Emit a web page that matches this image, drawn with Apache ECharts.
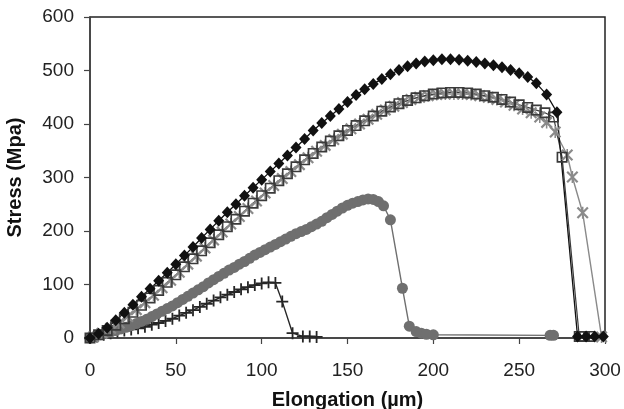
<!DOCTYPE html>
<html>
<head>
<meta charset="utf-8">
<script src="https://cdn.jsdelivr.net/npm/echarts@6/dist/echarts.min.js"></script>
<style>
  html, body { margin: 0; padding: 0; background: #fff; }
  #chart { width: 624px; height: 409px; }
</style>
</head>
<body>
<div id="chart"></div>
<script>
// tick labels
const xTicks = [0, 50, 100, 150, 200, 250, 300];
const yTicks = [0, 100, 200, 300, 400, 500, 600];

// black diamonds
const diamondX = [0, 5, 10, 15, 20, 25, 30, 35, 40, 45, 50, 55, 60, 65, 70, 75, 80, 85, 90, 95, 100,
  105, 110, 115, 120, 125, 130, 135, 140, 145, 150, 155, 160, 165, 170, 175, 180, 185, 190, 195, 200,
  205, 210, 215, 220, 225, 230, 235, 240, 245, 250, 255, 260, 266, 272, 284, 289, 294, 299];
const diamondY = [0, 8, 19, 33, 47, 62, 77, 92, 107, 122, 138, 154, 170, 187, 203, 219, 235, 250, 266, 281, 296,
  311, 326, 341, 356, 372, 388, 402, 415, 428, 441, 454, 465, 475, 484, 493, 501, 508, 513, 517, 519,
  521, 521, 520, 518, 516, 513, 510, 506, 501, 495, 488, 476, 455, 422, 3, 3, 3, 3];

// open squares
const squareX = [0, 5, 10, 15, 20, 25, 30, 35, 40, 45, 50, 55, 60, 65, 70, 75, 80, 85, 90, 95, 100,
  105, 110, 115, 120, 125, 130, 135, 140, 145, 150, 155, 160, 165, 170, 175, 180, 185, 190, 195, 200,
  205, 210, 215, 220, 225, 230, 235, 240, 245, 250, 255, 260, 265, 270, 275, 285, 288, 291];
const squareY = [0, 6, 14, 24, 36, 48, 61, 75, 89, 104, 118, 133, 148, 163, 178, 193, 208, 222, 237, 252, 266,
  280, 294, 307, 320, 333, 345, 357, 368, 378, 388, 397, 406, 415, 424, 432, 438, 444, 449, 453, 456,
  458, 459, 459, 458, 456, 453, 450, 446, 441, 436, 431, 426, 421, 413, 338, 3, 3, 3];

// grey asterisks
const starX = [2, 7, 12, 17, 22, 27, 32, 37, 42, 47, 52, 57, 62, 67, 72, 77, 82, 87, 92, 97, 102,
  107, 112, 117, 122, 127, 132, 137, 142, 147, 152, 157, 162, 167, 172, 177, 182, 187, 192, 197, 202,
  207, 212, 217, 222, 227, 232, 237, 242, 247, 252, 257, 262, 266, 271, 278, 281, 287, 298];
const starY = [2, 9, 18, 28, 40, 53, 66, 80, 94, 108, 123, 138, 153, 168, 183, 198, 213, 227, 242, 256, 271,
  285, 298, 311, 324, 337, 349, 360, 371, 381, 391, 400, 409, 418, 426, 433, 440, 446, 450, 453, 455,
  456, 456, 456, 455, 453, 450, 446, 441, 435, 428, 421, 413, 403, 385, 342, 301, 234, 2];

// grey circles
const circleX = [0, 3, 6, 9, 12, 15, 18, 21, 24, 27, 30, 33, 36, 39, 42, 45, 48, 51, 54, 57, 60,
  63, 66, 69, 72, 75, 78, 81, 84, 87, 90, 93, 96, 99, 102, 105, 108, 111, 114, 117, 120,
  123, 126, 129, 132, 135, 138, 141, 144, 147, 150, 153, 156, 159, 162, 165, 168, 171,
  175, 182, 186, 190, 193, 196, 200, 268, 270];
const circleY = [0, 3, 6, 9, 11, 14, 17, 20, 23, 27, 31, 35, 40, 45, 50, 55, 60, 66, 72, 78, 84,
  90, 96, 103, 109, 115, 121, 127, 132, 138, 143, 149, 155, 160, 165, 170, 175, 180, 185, 190, 195,
  199, 203, 208, 213, 218, 225, 231, 237, 243, 248, 252, 255, 258, 260, 259, 255, 247,
  221, 93, 22, 12, 9, 7, 6, 5, 5];

// dark crosses
const plusX = [0, 4, 8, 12, 16, 20, 24, 28, 32, 36, 40, 44, 48, 52, 56, 60, 64, 68, 72, 76, 80,
  84, 88, 92, 96, 100, 104, 108, 112, 118, 124, 128, 132];
const plusY = [0, 3, 6, 9, 12, 14, 16, 18, 21, 25, 28, 32, 36, 42, 47, 52, 58, 64, 70, 76, 81,
  86, 91, 95, 99, 102, 104, 103, 68, 9, 3, 3, 2];

const pairs = (xs, ys) => xs.map((x, i) => [x, ys[i]]);

const squarePath = 'path://M0,0H10V10H0Z M1.5,1.5V8.5H8.5V1.5Z';
const starPath = 'path://M0,1.3L1.3,0L10,8.7L8.7,10Z M8.7,0L10,1.3L1.3,10L0,8.7Z M4.35,0H5.65V10H4.35Z';
const plusPath = 'path://M4.25,0H5.75V10H4.25Z M0,4.25H10V5.75H0Z';

const chart = echarts.init(document.getElementById('chart'), null, { renderer: 'canvas' });

const font = 'Liberation Sans, Arial, sans-serif';

const option = {
  animation: false,
  backgroundColor: '#fff',
  grid: {
    left: 90, right: 19, top: 17, bottom: 71,
    outerBoundsMode: 'none',
    containLabel: false,
    show: true, borderColor: '#222', borderWidth: 1.5, backgroundColor: 'transparent'
  },
  xAxis: {
    type: 'value',
    min: xTicks[0], max: xTicks[xTicks.length - 1], interval: 50,
    name: 'Elongation (µm)',
    nameLocation: 'middle',
    nameGap: 52,
    nameTextStyle: { fontFamily: font, fontWeight: 'bold', fontSize: 20, color: '#111' },
    axisLine: { lineStyle: { color: '#444', width: 1.5 } },
    axisTick: { show: true, length: 6, lineStyle: { color: '#444', width: 1.2 } },
    axisLabel: { fontFamily: font, fontSize: 19, color: '#222', margin: 23 },
    splitLine: { show: false }
  },
  yAxis: {
    type: 'value',
    min: yTicks[0], max: yTicks[yTicks.length - 1], interval: 100,
    name: 'Stress (Mpa)',
    nameLocation: 'middle',
    nameGap: 65,
    nameTextStyle: { fontFamily: font, fontWeight: 'bold', fontSize: 20, color: '#111' },
    axisLine: { show: true, lineStyle: { color: '#444', width: 1.5 } },
    axisTick: { show: true, length: 6, lineStyle: { color: '#444', width: 1.2 } },
    axisLabel: { fontFamily: font, fontSize: 19, color: '#222', margin: 16 },
    splitLine: { show: false }
  },
  series: [
    {
      type: 'line', data: pairs(plusX, plusY),
      symbol: plusPath, symbolSize: 12,
      itemStyle: { color: '#262626' },
      lineStyle: { color: '#262626', width: 1.4 }
    },
    {
      type: 'line', data: pairs(circleX, circleY),
      symbol: 'circle', symbolSize: 11,
      itemStyle: { color: '#6f6f6f' },
      lineStyle: { color: '#6f6f6f', width: 1.4 }
    },
    {
      type: 'line', data: pairs(starX, starY),
      symbol: starPath, symbolSize: 12,
      itemStyle: { color: '#8a8a8a' },
      lineStyle: { color: '#8a8a8a', width: 1.4 }
    },
    {
      type: 'line', data: pairs(squareX, squareY),
      symbol: squarePath, symbolSize: 11,
      itemStyle: { color: '#3a3a3a' },
      lineStyle: { color: '#3a3a3a', width: 1.2 }
    },
    {
      type: 'line', data: pairs(diamondX, diamondY),
      symbol: 'diamond', symbolSize: [11, 12],
      itemStyle: { color: '#111' },
      lineStyle: { color: '#111', width: 1.3 }
    }
  ]
};

chart.setOption(option);
</script>
</body>
</html>
